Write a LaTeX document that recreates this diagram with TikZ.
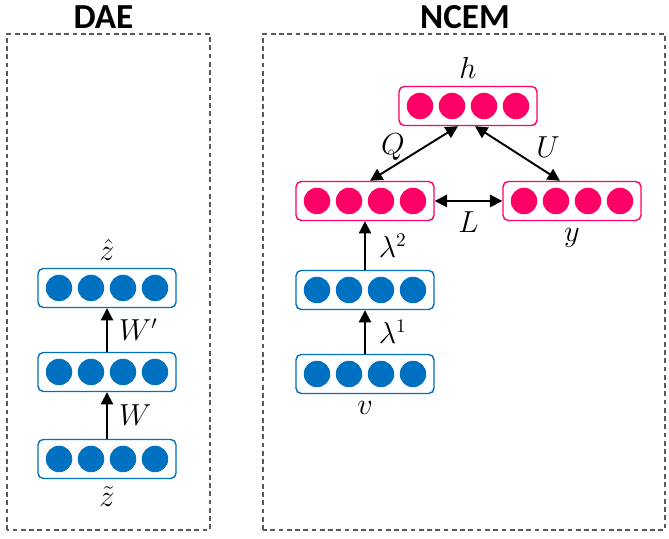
\documentclass[tikz,border=0pt]{standalone}
\usepackage{fontspec}
\setsansfont{Carlito}
\usetikzlibrary{positioning,arrows.meta}

\definecolor{unitblue}{HTML}{0070C0}
\definecolor{unitpink}{HTML}{FF0066}

\tikzset{
    layer/.style={draw=#1, line width=0.8pt, rounded corners=3pt,
        minimum width=2.76cm, minimum height=0.78cm,
        path picture={\foreach \i in {-1.5,-0.5,0.5,1.5}
            \fill[#1] (path picture bounding box.center) ++(\i*0.64,0) circle (0.265);}},
    frame/.style={draw=black!65, line width=0.6pt, dash pattern=on 2.7pt off 2pt},
    conn/.style={line width=1.1pt, -{Triangle[length=7pt,width=7pt]}},
    biconn/.style={line width=1.1pt, {Triangle[length=7pt,width=7pt]}-{Triangle[length=7pt,width=7pt]}},
    lbl/.style={font=\fontsize{16}{19}\selectfont},
    title/.style={font=\sffamily\bfseries\fontsize{20}{24}\selectfont}
}

\begin{document}
\begin{tikzpicture}
    \useasboundingbox (0,0) rectangle (13.38,10.78);

    % DAE
    \node[title] (daetitle) at (2.07,10.44) {DAE};
    \draw[frame] (0.14,0.18) rectangle (4.2,10.1);
    \node[layer=unitblue] (zt) at (2.14,1.6) {};
    \node[layer=unitblue] (hid) at (2.14,3.34) {};
    \node[layer=unitblue] (zh) at (2.14,5.02) {};
    \draw[conn] (zt) -- node[lbl, right=3pt] (lw) {$W$} (hid);
    \draw[conn] (hid) -- node[lbl, right=3pt] (lwp) {$W'$} (zh);
    \node[lbl, above=0.02cm of zh] (lzh) {$\hat{z}$};
    \node[lbl, below=0.02cm of zt] (lzt) {$\tilde{z}$};

    % NCEM
    \node[title] (ncemtitle) at (9.3,10.44) {NCEM};
    \draw[frame] (5.26,0.18) rectangle (13.3,10.1);
    \node[layer=unitblue] (v) at (7.3,3.3) {};
    \node[layer=unitblue] (h1) at (7.3,4.98) {};
    \node[layer=unitpink] (h2) at (7.3,6.76) {};
    \node[layer=unitpink] (h) at (9.36,8.66) {};
    \node[layer=unitpink] (y) at (11.44,6.76) {};
    \draw[conn] (v) -- node[lbl, right=4pt] (ll1) {$\lambda^1$} (h1);
    \draw[conn] (h1) -- node[lbl, right=4pt] (ll2) {$\lambda^2$} (h2);
    \draw[biconn] ([xshift=0.1cm]h2.north) -- ([xshift=-0.2cm]h.south);
    \draw[biconn] ([xshift=0.14cm]h.south) -- ([xshift=-0.24cm]y.north);
    \draw[biconn] (h2.east) -- node[lbl, below=2pt] (ll) {$L$} (y.west);
    \node[lbl] (lq) at (7.86,7.84) {$Q$};
    \node[lbl] (lu) at (10.96,7.84) {$U$};
    \node[lbl, above=0.02cm of h] (lh) {$h$};
    \node[lbl, below=0.02cm of y] (ly) {$y$};
    \node[lbl, below=0.02cm of v] (lv) {$v$};
\end{tikzpicture}
\end{document}
